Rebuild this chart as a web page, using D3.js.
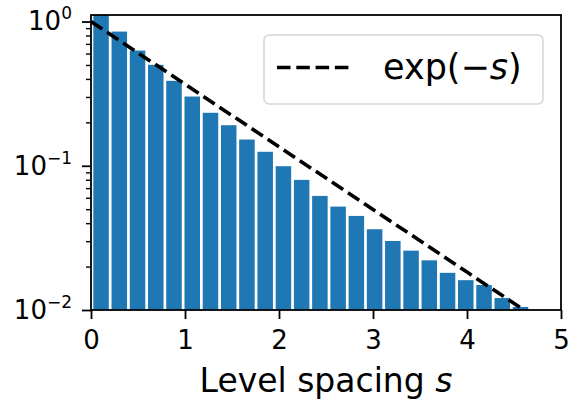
<!DOCTYPE html>
<html>
<head>
<meta charset="utf-8">
<script src="https://cdn.jsdelivr.net/npm/d3@7"></script>
<style>
  body { margin: 0; background: #fff; }
  svg { display: block; font-family: "DejaVu Sans", sans-serif; }
</style>
</head>
<body>
<div id="chart"></div>
<script>
// Histogram of level spacings (bin centres and normalised counts)
const binCenters = [0.107, 0.301, 0.495, 0.689, 0.883, 1.077, 1.271, 1.465, 1.659, 1.853,
                    2.047, 2.241, 2.435, 2.629, 2.823, 3.017, 3.211, 3.405, 3.599, 3.793,
                    3.987, 4.181, 4.375, 4.569];
const density = [1.2, 0.852, 0.629, 0.501, 0.388, 0.302, 0.233, 0.191, 0.152, 0.125,
                 0.0993, 0.0798, 0.0618, 0.0521, 0.0449, 0.0363, 0.0301, 0.0258, 0.0221, 0.0181,
                 0.0161, 0.0149, 0.0121, 0.0105];
const barWidth = 0.165;
// Sample points for the Poisson reference exp(-s)
const refS = [0, 1, 2, 3, 4, 5];
const xTicks = [0, 1, 2, 3, 4, 5];
const yTicks = [0.01, 0.1, 1];
const yExponents = ['\u22122', '\u22121', '0'];

const W = 571, H = 402;
const box = { left: 91, right: 561, top: 15, bottom: 310 };

const svg = d3.select('#chart').append('svg')
  .attr('width', W).attr('height', H);

const x = d3.scaleLinear().domain([0, 5]).range([box.left, box.right]);
const y = d3.scaleLog().domain([0.01, 1.11]).range([box.bottom, box.top]);

svg.append('clipPath').attr('id', 'plot-clip')
  .append('rect')
  .attr('x', box.left).attr('y', box.top)
  .attr('width', box.right - box.left).attr('height', box.bottom - box.top);

const plot = svg.append('g').attr('clip-path', 'url(#plot-clip)');

// Bars
plot.selectAll('rect.bar')
  .data(binCenters)
  .join('rect')
  .attr('class', 'bar')
  .attr('x', d => x(d - barWidth / 2))
  .attr('width', x(barWidth) - x(0))
  .attr('y', (d, i) => y(density[i]))
  .attr('height', (d, i) => box.bottom - y(density[i]))
  .attr('fill', '#1f77b4');

// exp(-s) dashed line
const line = d3.line().x(d => x(d)).y(d => y(Math.exp(-d)));
plot.append('path')
  .datum(refS)
  .attr('d', line)
  .attr('fill', 'none')
  .attr('stroke', '#000')
  .attr('stroke-width', 3.6)
  .attr('stroke-dasharray', '13.5,5.8');

// X axis
const xAxis = svg.append('g')
  .attr('transform', `translate(0,${box.bottom})`)
  .call(d3.axisBottom(x).tickValues(xTicks).tickFormat(d3.format('d'))
    .tickSize(9).tickPadding(12).tickSizeOuter(0));
xAxis.select('.domain').remove();
xAxis.selectAll('line').attr('stroke', '#000').attr('stroke-width', 1.8);
xAxis.selectAll('text').attr('font-size', 26).attr('fill', '#000')
  .attr('font-family', '"DejaVu Sans", sans-serif');

// Y axis (major + minor ticks)
const minor = [];
[0.01, 0.1].forEach(b => { for (let k = 2; k <= 9; k++) minor.push(b * k); });
const yMinor = svg.append('g')
  .attr('transform', `translate(${box.left},0)`)
  .call(d3.axisLeft(y).tickValues(minor).tickFormat('').tickSize(5).tickSizeOuter(0));
yMinor.select('.domain').remove();
yMinor.selectAll('line').attr('stroke', '#000').attr('stroke-width', 1.4);

const yAxis = svg.append('g')
  .attr('transform', `translate(${box.left},0)`)
  .call(d3.axisLeft(y).tickValues(yTicks).tickSize(9).tickPadding(10).tickSizeOuter(0));
yAxis.select('.domain').remove();
yAxis.selectAll('line').attr('stroke', '#000').attr('stroke-width', 1.8);
yAxis.selectAll('text')
  .attr('font-size', 26).attr('fill', '#000')
  .attr('font-family', '"DejaVu Sans", sans-serif')
  .text(null)
  .each(function (d, i) {
    const t = d3.select(this);
    t.append('tspan').text('10');
    t.append('tspan').attr('font-size', 17).attr('dy', -11).text(yExponents[i]);
  });

// Frame
svg.append('rect')
  .attr('x', box.left).attr('y', box.top)
  .attr('width', box.right - box.left).attr('height', box.bottom - box.top)
  .attr('fill', 'none').attr('stroke', '#000').attr('stroke-width', 1.8);

// X label
const xl = svg.append('text')
  .attr('x', (box.left + box.right) / 2).attr('y', 392)
  .attr('text-anchor', 'middle')
  .attr('font-size', 33).attr('fill', '#000');
xl.append('tspan').text('Level spacing ');
xl.append('tspan').attr('font-style', 'italic').text('s');

// Legend
const lg = svg.append('g');
lg.append('rect')
  .attr('x', 264).attr('y', 35).attr('width', 279).attr('height', 69)
  .attr('rx', 5).attr('ry', 5)
  .attr('fill', '#fff').attr('fill-opacity', 0.8)
  .attr('stroke', '#d6d6d6').attr('stroke-width', 1.5);
lg.append('line')
  .attr('x1', 277).attr('x2', 352).attr('y1', 67.5).attr('y2', 67.5)
  .attr('stroke', '#000').attr('stroke-width', 3.6)
  .attr('stroke-dasharray', '13.5,5.8');
const lt = lg.append('text')
  .attr('x', 383).attr('y', 79)
  .attr('font-size', 35).attr('fill', '#000');
lt.append('tspan').text('exp(\u2212');
lt.append('tspan').attr('font-style', 'italic').text('s');
lt.append('tspan').text(')');
</script>
</body>
</html>
